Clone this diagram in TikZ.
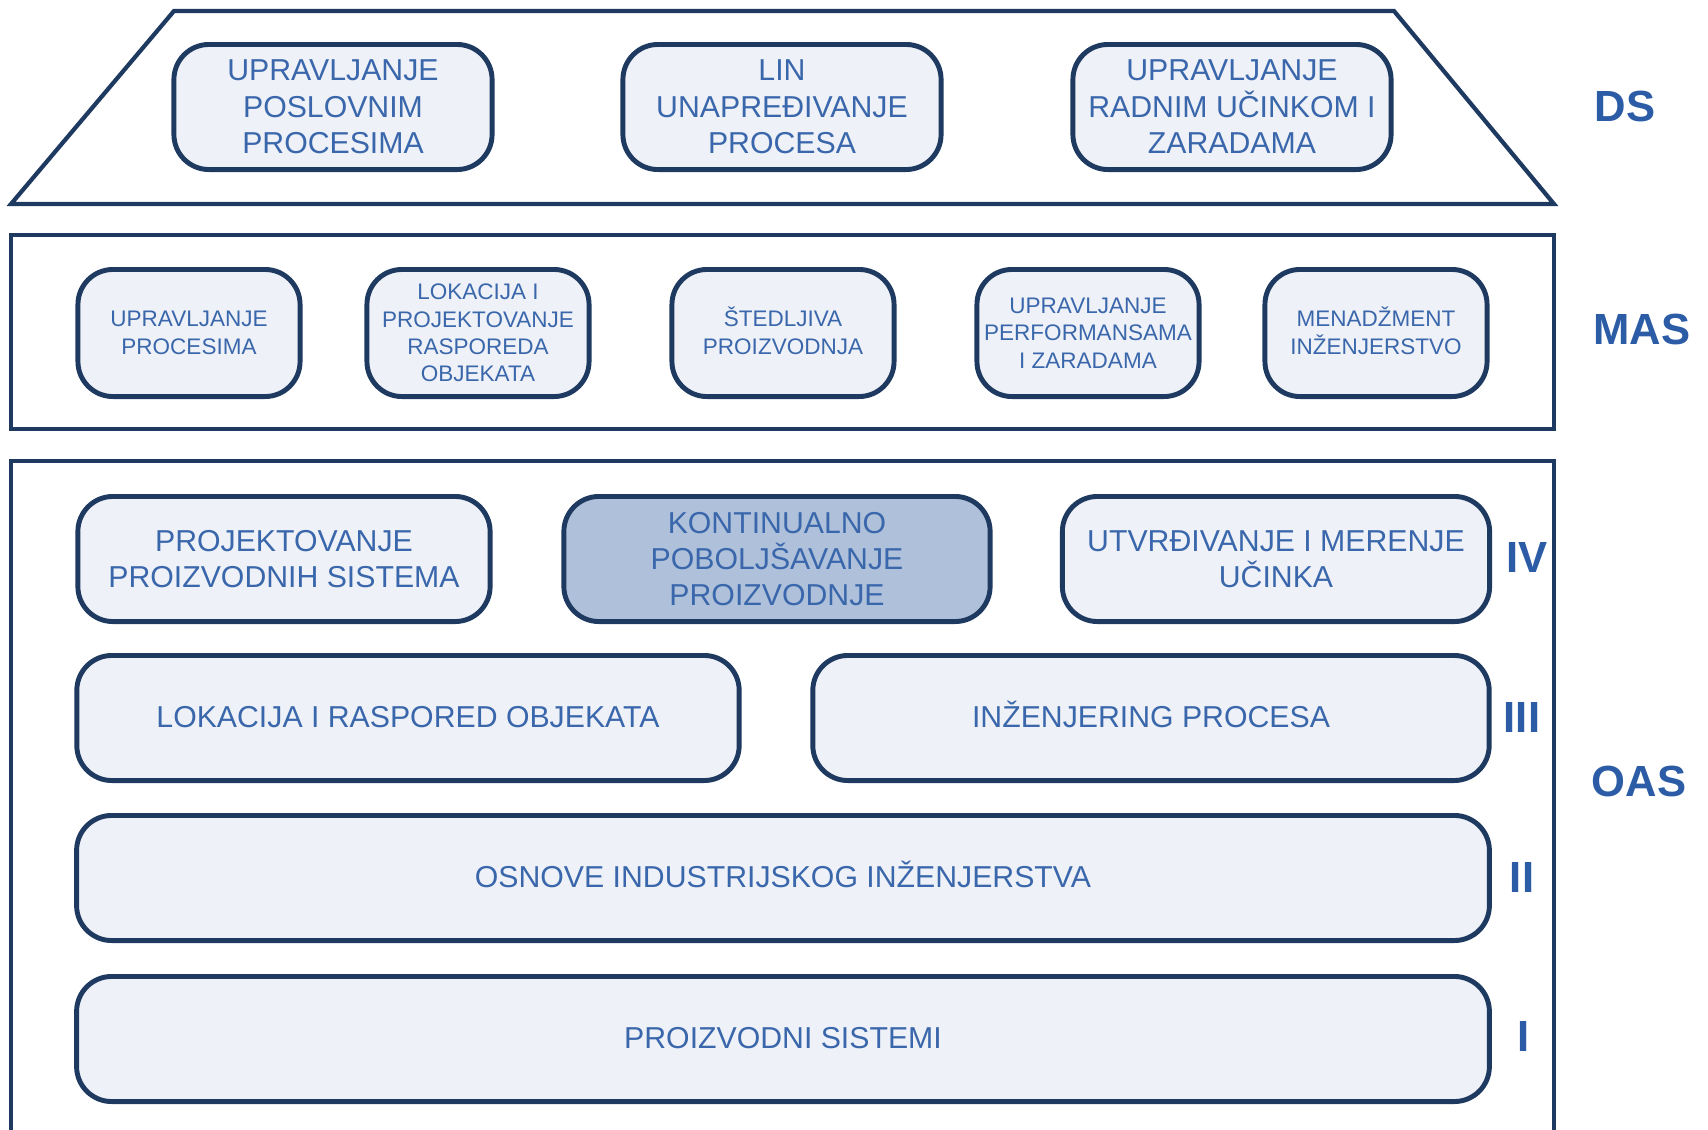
\documentclass[tikz,border=0pt]{standalone}
\usepackage{fontspec}
\setmainfont{Liberation Sans}
\definecolor{frame}{HTML}{1F3A60}
\definecolor{boxfill}{HTML}{EEF1F7}
\definecolor{hifill}{HTML}{AFC1DA}
\definecolor{txt}{HTML}{3A67AB}
\definecolor{lbl}{HTML}{2B5CA5}
\begin{document}
\begin{tikzpicture}[x=0.01cm,y=-0.01cm,
    area/.style={draw=frame,line width=1.2pt},
    box/.style={draw=frame,fill=boxfill,line width=1.4pt,rounded corners=0.35cm,align=center,text=txt,inner sep=0pt,minimum height=1.25cm},
    topbox/.style={box,font=\fontsize{8.6}{10.4}\selectfont,minimum width=3.18cm},
    masbox/.style={box,font=\fontsize{6.4}{7.8}\selectfont,minimum width=2.22cm,minimum height=1.27cm},
    oasbox/.style={box,font=\fontsize{8.6}{10.3}\selectfont},
    oneline/.style={text height=6.2pt,text depth=1pt},
    lvl/.style={text=lbl,font=\bfseries\fontsize{12.4}{14}\selectfont}]
    \useasboundingbox (0,0) rectangle (1708,1130);
    % frames of the three levels
    \draw[area] (174,11) -- (1394,11) -- (1554,204) -- (11,204) -- cycle;
    \draw[area] (11,235) rectangle (1554,429);
    \draw[area] (11,1130) -- (11,461) -- (1554,461) -- (1554,1130);
    % DS
    \node[topbox] (posl) at (333,107) {UPRAVLJANJE\\POSLOVNIM\\PROCESIMA};
    \node[topbox] (lin) at (782,107) {LIN\\UNAPREĐIVANJE\\PROCESA};
    \node[topbox] (ucin) at (1232,107) {UPRAVLJANJE\\RADNIM UČINKOM I\\ZARADAMA};
    % MAS
    \node[masbox] (uproc) at (189,333) {UPRAVLJANJE\\PROCESIMA};
    \node[masbox] (lokproj) at (478,333) {LOKACIJA I\\PROJEKTOVANJE\\RASPOREDA\\OBJEKATA};
    \node[masbox] (stedl) at (783,333) {\smash{Š}TEDLJIVA\\PROIZVODNJA};
    \node[masbox] (perf) at (1088,333) {UPRAVLJANJE\\PERFORMANSAMA\\I ZARADAMA};
    \node[masbox] (menadz) at (1376,333) {MENAD\smash{Ž}MENT\\INŽENJERSTVO};
    % OAS
    \node[oasbox,minimum width=4.12cm] (projsis) at (284,559) {PROJEKTOVANJE\\PROIZVODNIH SISTEMA};
    \node[oasbox,fill=hifill,minimum width=4.26cm] (kontin) at (777,559) {KONTINUALNO\\POBOLJŠAVANJE\\PROIZVODNJE};
    \node[oasbox,minimum width=4.27cm] (merenje) at (1276,559) {UTVRĐIVANJE I MERENJE\\UČINKA};
    \node[oasbox,oneline,minimum width=6.62cm] (lokras) at (408,718) {LOKACIJA I RASPORED OBJEKATA};
    \node[oasbox,oneline,minimum width=6.76cm] (inzproc) at (1151,718) {INŽENJERING PROCESA};
    \node[oasbox,oneline,minimum width=14.12cm] (osnove) at (783,878) {OSNOVE INDUSTRIJSKOG INŽENJERSTVA};
    \node[oasbox,oneline,minimum width=14.12cm] (proizsis) at (783,1039) {PROIZVODNI SISTEMI};
    % level labels
    \node[lvl] (ds) at (1625,106) {DS};
    \node[lvl] (mas) at (1642,329) {MAS};
    \node[lvl] (oas) at (1639,781) {OAS};
    \node[lvl] (iv) at (1527,557) {IV};
    \node[lvl] (iii) at (1522,717) {III};
    \node[lvl] (ii) at (1522,877) {II};
    \node[lvl] (i) at (1524,1036) {I};
\end{tikzpicture}
\end{document}
